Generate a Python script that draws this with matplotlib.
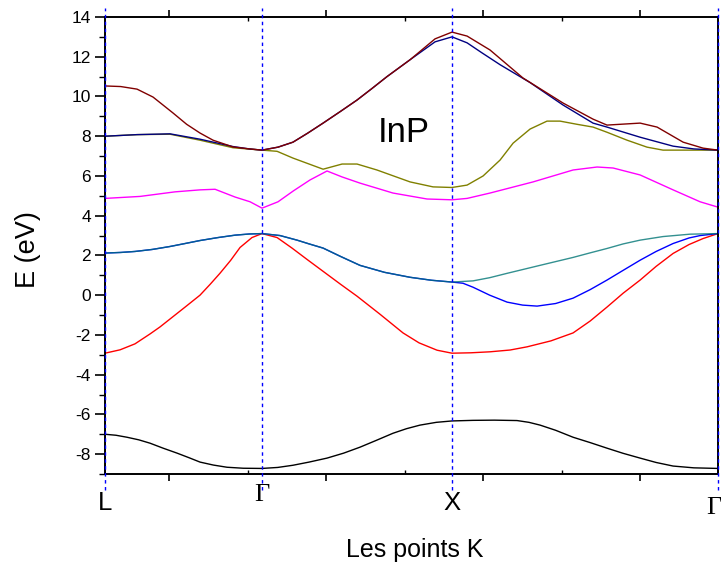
import numpy as np
import matplotlib
matplotlib.use('Agg')
import matplotlib.pyplot as plt
from matplotlib.ticker import MultipleLocator, FixedLocator
from matplotlib.transforms import blended_transform_factory

plt.rcParams['font.family'] = ['Liberation Sans', 'DejaVu Sans']
plt.rcParams['axes.unicode_minus'] = False

# High-symmetry points along the path (path length units)
sym_names = ['L', 'Γ', 'X', 'Γ']
sym_k = [0.0, 1.0, 2.21, 3.904]

# Bands: (k, E in eV)
band1_k = [0.0, 0.070, 0.140, 0.215, 0.287, 0.370, 0.459, 0.535, 0.605, 0.690, 0.777, 0.880, 1.0,
           1.100, 1.197, 1.300, 1.414, 1.520, 1.624, 1.730, 1.834, 1.920, 2.006, 2.110, 2.21,
           2.344, 2.480, 2.624, 2.700, 2.771, 2.870, 2.981, 3.090, 3.197, 3.300, 3.408, 3.510,
           3.618, 3.750, 3.904]
band1_E = [-7.0, -7.05, -7.15, -7.28, -7.45, -7.7, -7.95, -8.18, -8.4, -8.55, -8.66, -8.71, -8.72,
           -8.67, -8.56, -8.4, -8.2, -7.95, -7.65, -7.3, -6.95, -6.72, -6.54, -6.4, -6.33,
           -6.3, -6.29, -6.31, -6.4, -6.54, -6.8, -7.15, -7.42, -7.7, -7.96, -8.2, -8.42,
           -8.6, -8.69, -8.72]

band2_k = [0.0, 0.096, 0.191, 0.287, 0.350, 0.414, 0.510, 0.605, 0.670, 0.732, 0.800, 0.860, 0.936, 1.0,
           1.096, 1.191, 1.290, 1.389, 1.500, 1.605, 1.750, 1.898, 2.000, 2.115, 2.21,
           2.330, 2.452, 2.580, 2.688, 2.840, 2.981, 3.090, 3.197, 3.300, 3.408, 3.510, 3.618, 3.720,
           3.809, 3.904]
band2_E = [-2.92, -2.75, -2.45, -1.95, -1.6, -1.2, -0.6, 0.0, 0.55, 1.1, 1.75, 2.4, 2.9, 3.1,
           2.9, 2.37, 1.78, 1.2, 0.55, -0.05, -0.95, -1.9, -2.4, -2.77, -2.92,
           -2.9, -2.85, -2.76, -2.6, -2.3, -1.9, -1.3, -0.6, 0.1, 0.76, 1.45, 2.1, 2.55,
           2.85, 3.1]

# heavy-hole bands (degenerate along L-Γ-X)
band3_k = [0.0, 0.100, 0.191, 0.300, 0.414, 0.510, 0.605, 0.720, 0.828, 0.920, 1.0,
           1.115, 1.223, 1.300, 1.389, 1.500, 1.624, 1.780, 1.943, 2.080, 2.21,
           2.280, 2.344, 2.450, 2.561, 2.660, 2.752, 2.870, 2.981, 3.090, 3.197, 3.300, 3.408,
           3.510, 3.618, 3.720, 3.790, 3.904]
band3_E = [2.12, 2.15, 2.2, 2.3, 2.45, 2.6, 2.75, 2.9, 3.02, 3.08, 3.1,
           3.0, 2.77, 2.58, 2.37, 1.95, 1.5, 1.15, 0.9, 0.75, 0.66,
           0.6, 0.4, 0.0, -0.35, -0.5, -0.55, -0.42, -0.15, 0.28, 0.76, 1.25, 1.76,
           2.2, 2.6, 2.88, 3.0, 3.1]

band4_k = [0.0, 0.100, 0.191, 0.300, 0.414, 0.510, 0.605, 0.720, 0.828, 0.920, 1.0,
           1.115, 1.223, 1.300, 1.389, 1.500, 1.624, 1.780, 1.943, 2.080, 2.21,
           2.344, 2.450, 2.561, 2.770, 2.981, 3.090, 3.197, 3.300, 3.408, 3.554, 3.726, 3.904]
band4_E = [2.12, 2.15, 2.2, 2.3, 2.45, 2.6, 2.75, 2.9, 3.02, 3.08, 3.1,
           3.0, 2.77, 2.58, 2.37, 1.95, 1.5, 1.15, 0.9, 0.75, 0.66,
           0.72, 0.88, 1.1, 1.5, 1.9, 2.13, 2.35, 2.58, 2.77, 2.95, 3.07, 3.1]

band5_k = [0.0, 0.223, 0.446, 0.605, 0.701, 0.828, 0.924, 1.0,
           1.102, 1.200, 1.306, 1.414, 1.510, 1.624, 1.834, 2.051, 2.21,
           2.306, 2.452, 2.726, 2.981, 3.134, 3.236, 3.408, 3.618, 3.790, 3.904]
band5_E = [4.87, 4.97, 5.2, 5.3, 5.33, 4.94, 4.7, 4.38,
           4.7, 5.25, 5.8, 6.25, 5.95, 5.64, 5.14, 4.84, 4.8,
           4.87, 5.14, 5.7, 6.3, 6.45, 6.4, 6.05, 5.3, 4.7, 4.43]

band6_k = [0.0, 0.204, 0.414, 0.605, 0.815, 1.0,
           1.096, 1.197, 1.389, 1.510, 1.605, 1.732, 1.943, 2.089, 2.21,
           2.306, 2.408, 2.516, 2.599, 2.707, 2.815, 2.898, 3.006, 3.108, 3.197, 3.325, 3.452, 3.554, 3.904]
band6_E = [8.0, 8.08, 8.1, 7.8, 7.42, 7.3,
           7.24, 6.9, 6.34, 6.6, 6.6, 6.3, 5.7, 5.45, 5.42,
           5.54, 6.0, 6.8, 7.65, 8.36, 8.76, 8.76, 8.6, 8.46, 8.2, 7.8, 7.45, 7.3, 7.3]

band7_k = [0.0, 0.204, 0.414, 0.605, 0.815, 0.920, 1.0,
           1.102, 1.197, 1.290, 1.389, 1.500, 1.605, 1.700, 1.796, 1.943, 2.102, 2.21,
           2.306, 2.400, 2.516, 2.707, 2.917, 3.108, 3.197, 3.408, 3.618, 3.750, 3.904]
band7_E = [8.0, 8.08, 8.12, 7.85, 7.48, 7.36, 7.3,
           7.45, 7.7, 8.15, 8.66, 9.25, 9.82, 10.4, 11.0, 11.85, 12.75, 13.0,
           12.7, 12.2, 11.6, 10.7, 9.57, 8.66, 8.46, 7.95, 7.5, 7.36, 7.3]

band8_k = [0.0, 0.100, 0.204, 0.306, 0.433, 0.520, 0.605, 0.688, 0.815, 0.920, 1.0,
           1.102, 1.197, 1.290, 1.389, 1.500, 1.605, 1.700, 1.796, 1.943, 2.102, 2.21,
           2.306, 2.452, 2.662, 2.917, 3.108, 3.197, 3.408, 3.516, 3.682, 3.809, 3.904]
band8_E = [10.53, 10.5, 10.37, 9.97, 9.17, 8.6, 8.16, 7.8, 7.46, 7.36, 7.3,
           7.45, 7.7, 8.15, 8.66, 9.25, 9.82, 10.4, 11.0, 11.85, 12.9, 13.24,
           13.04, 12.34, 10.93, 9.67, 8.86, 8.56, 8.66, 8.46, 7.7, 7.4, 7.3]

fig = plt.figure(figsize=(7.21, 5.71), dpi=100)
ax = fig.add_axes([105 / 721, 1 - 474 / 571, 613 / 721, 457 / 571])

ax.plot(band1_k, band1_E, color='#000000', lw=1.0)
ax.plot(band2_k, band2_E, color='#FF0000', lw=1.0)
ax.plot(band3_k, band3_E, color='#0000FF', lw=1.0)
ax.plot(band4_k, band4_E, color='#007575', lw=1.0, alpha=0.8)
ax.plot(band5_k, band5_E, color='#FF00FF', lw=1.0)
ax.plot(band6_k, band6_E, color='#808000', lw=1.0)
ax.plot(band7_k, band7_E, color='#000080', lw=1.0)
ax.plot(band8_k, band8_E, color='#800000', lw=1.0)

ax.set_xlim(sym_k[0], sym_k[-1])
ax.set_ylim(-9, 14)

# dashed guides at the high-symmetry points, running past the frame
for kp in sym_k:
    ax.axvline(kp, ymin=-0.035, ymax=1.02, color='#0000FF', lw=1.0,
               ls=(0, (2.5, 2.5)), clip_on=False, zorder=5)

# ticks
ax.yaxis.set_major_locator(MultipleLocator(2))
ax.yaxis.set_minor_locator(MultipleLocator(1))
ax.xaxis.set_major_locator(FixedLocator([0.41, 1.41, 2.41, 3.41]))
ax.xaxis.set_minor_locator(FixedLocator([0.91, 1.91, 2.91]))
ax.tick_params(axis='y', which='major', direction='out', length=7, width=1.2, labelsize=12.5, pad=3)
ax.tick_params(axis='y', which='minor', direction='out', length=4, width=1.0)
ax.tick_params(axis='x', which='major', direction='out', length=5, width=1.2,
               labelbottom=False, top=True)
ax.tick_params(axis='x', which='minor', direction='in', length=3, width=1.0, top=True)
for s in ax.spines.values():
    s.set_linewidth(1.4)

trans = blended_transform_factory(ax.transData, ax.transAxes)
label_x = [0.0, 1.0, 2.21, 3.88]
label_y = [-0.064, -0.046, -0.064, -0.075]
for name, kp, yy in zip(sym_names, label_x, label_y):
    if name == 'Γ':
        ax.text(kp, yy, name, transform=trans, ha='center', va='center',
                fontsize=19, family=['Liberation Serif', 'DejaVu Serif'])
    else:
        ax.text(kp, yy, name, transform=trans, ha='center', va='center', fontsize=18.5)

ax.text(1.90, 8.2, 'InP', ha='center', va='center', fontsize=25)

fig.text(415 / 721, 1 - 550 / 571, 'Les points K', ha='center', va='center', fontsize=18)
fig.text(28 / 721, 1 - 250 / 571, 'E (eV)', ha='center', va='center', fontsize=19.5, rotation=90)

fig.savefig('out.png', dpi=100)
